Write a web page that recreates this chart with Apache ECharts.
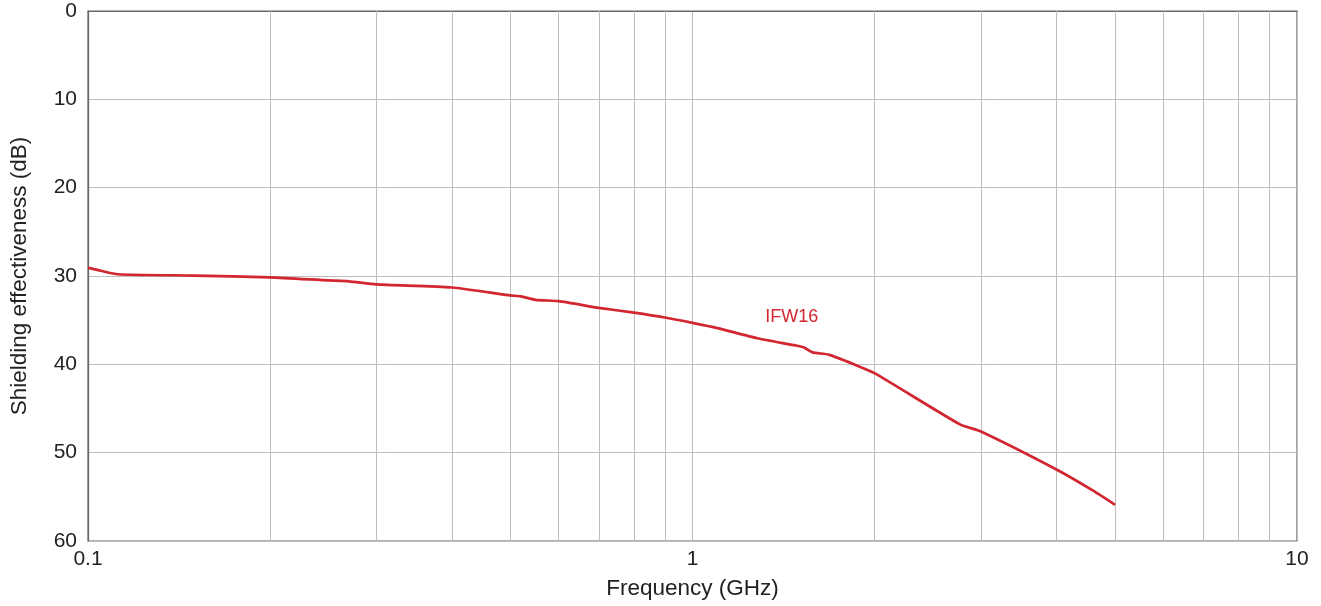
<!DOCTYPE html>
<html>
<head>
<meta charset="utf-8">
<script src="https://cdn.jsdelivr.net/npm/echarts@6/dist/echarts.min.js"></script>
<style>html,body{margin:0;padding:0;background:#fff}#c{width:1321px;height:606px}</style>
</head>
<body>
<div id="c"></div>
<script>
// Frequency (GHz) and shielding effectiveness (dB)
const freq = [0.1, 0.105, 0.112, 0.15, 0.2, 0.25, 0.27, 0.3, 0.4, 0.5, 0.52, 0.55, 0.6, 0.7, 0.8, 0.9, 1.0, 1.1, 1.28, 1.49, 1.53, 1.58, 1.68, 1.85, 2.0, 2.77, 3.0, 4.0, 4.6, 5.0];
const se   = [29.05, 29.4, 29.8, 29.95, 30.15, 30.5, 30.6, 30.95, 31.3, 32.2, 32.3, 32.7, 32.85, 33.6, 34.15, 34.7, 35.3, 35.9, 37.05, 37.9, 38.1, 38.65, 38.9, 40.0, 41.0, 46.8, 47.6, 51.9, 54.3, 55.9];
const minorGrid = [0.2, 0.3, 0.4, 0.5, 0.6, 0.7, 0.8, 0.9, 2, 3, 4, 5, 6, 7, 8, 9];
const seriesName = 'IFW16';
const labelAt = [1.46, 34.6];

const chart = echarts.init(document.getElementById('c'));
const font = '"Liberation Sans", Arial, Helvetica, sans-serif';
chart.setOption({
  animation: false,
  grid: { left: 87, right: 24, top: 11, bottom: 65, show: true, borderColor: '#666', borderWidth: 1.2, backgroundColor: 'transparent' },
  xAxis: {
    type: 'log', logBase: 10, min: 0.1, max: 10,
    name: 'Frequency (GHz)', nameLocation: 'middle', nameGap: 36,
    nameTextStyle: { fontFamily: font, fontSize: 22.5, color: '#222' },
    axisLine: { lineStyle: { color: '#666', width: 1.2 } },
    axisTick: { show: false },
    axisLabel: { fontFamily: font, fontSize: 21, color: '#222', margin: 8, formatter: v => String(v) },
    splitLine: { show: true, lineStyle: { color: '#bdbdbd', width: 1 } }
  },
  yAxis: {
    type: 'value', inverse: true, min: 0, max: 60, interval: 10,
    name: 'Shielding effectiveness (dB)', nameLocation: 'middle', nameGap: 57,
    nameTextStyle: { fontFamily: font, fontSize: 22.5, color: '#222' },
    axisLine: { show: true, lineStyle: { color: '#666', width: 1.2 } },
    axisTick: { show: false },
    axisLabel: { fontFamily: font, fontSize: 21, color: '#222', margin: 11 },
    splitLine: { show: true, lineStyle: { color: '#bdbdbd', width: 1 } }
  },
  series: [
    {
      type: 'line', silent: true, data: [], z: 1,
      markLine: {
        silent: true, symbol: 'none', animation: false,
        label: { show: false },
        lineStyle: { color: '#bdbdbd', width: 1, type: 'solid' },
        data: minorGrid.map(v => ({ xAxis: v }))
      }
    },
    {
      name: seriesName, type: 'line', z: 5,
      data: freq.map((f, i) => [f, se[i]]),
      showSymbol: false, smooth: 0.2,
      lineStyle: { color: '#d22630', width: 2.7 },
      markPoint: {
        symbol: 'circle', symbolSize: 0,
        label: { show: true, formatter: seriesName, color: '#d22630', fontFamily: font, fontSize: 18 },
        data: [{ coord: labelAt }]
      }
    }
  ]
});
</script>
</body>
</html>
